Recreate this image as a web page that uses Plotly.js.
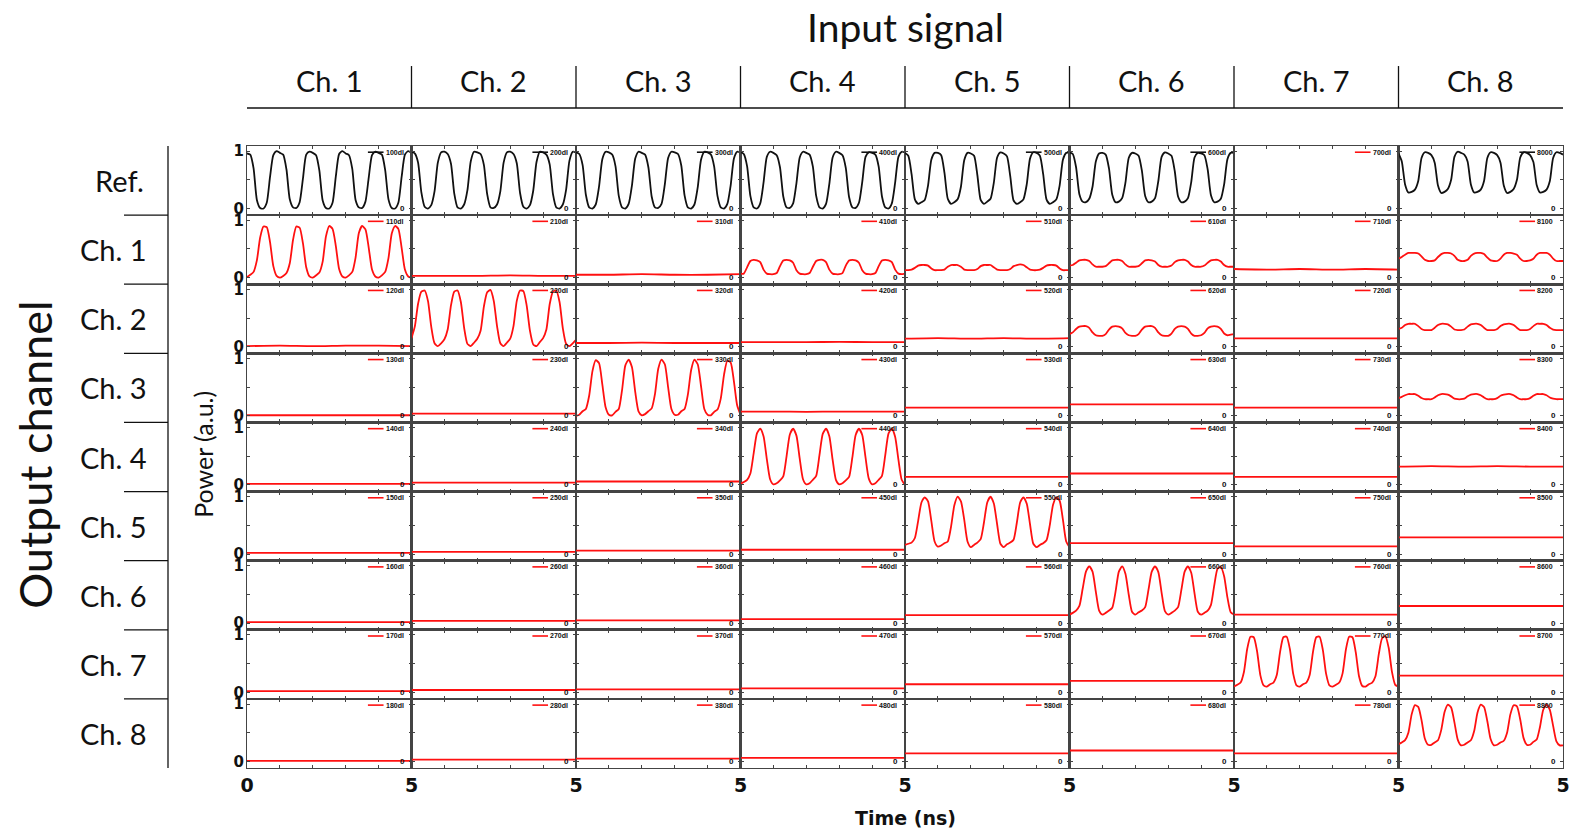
<!DOCTYPE html>
<html><head><meta charset="utf-8">
<script src="https://cdn.plot.ly/plotly-3.0.1.min.js"></script>
<style>html,body{margin:0;padding:0;background:#fff;}#chart{width:1571px;height:835px;}</style>
</head><body><div id="chart"></div>
<script>
// ---------- categories / ticks ----------
const inputLabels = ['Ch. 1','Ch. 2','Ch. 3','Ch. 4','Ch. 5','Ch. 6','Ch. 7','Ch. 8'];
const outputLabels = ['Ref.','Ch. 1','Ch. 2','Ch. 3','Ch. 4','Ch. 5','Ch. 6','Ch. 7','Ch. 8'];
const xTickVals = [0,1,2,3,4,5];
const xTickTextFirst = ['0','','','','','5'];
const xTickTextOther = ['','','','','','5'];
const yTickVals = [0,0.5,1];
const smallZeroText = '0';
const yBigVals = [0,1];
const yBigText = ['0','1'];

// ---------- time grids (ns) ----------
const t = [0.0,0.1,0.2,0.3,0.4,0.5,0.6,0.7,0.8,0.9,
           1.0,1.1,1.2,1.3,1.4,1.5,1.6,1.7,1.8,1.9,
           2.0,2.1,2.2,2.3,2.4,2.5,2.6,2.7,2.8,2.9,
           3.0,3.1,3.2,3.3,3.4,3.5,3.6,3.7,3.8,3.9,
           4.0,4.1,4.2,4.3,4.4,4.5,4.6,4.7,4.8,4.9,
           5.0];
const tFlat = [0,1,2,3,4,5];

// ---------- Reference row ----------
const ref_in1 = [0.96,0.94,0.70,0.15,0.01,0.00,0.10,0.55,0.93,1.00,
 0.97,0.94,0.68,0.16,0.02,0.01,0.11,0.52,0.94,0.99,
 0.97,0.93,0.66,0.14,0.01,0.00,0.10,0.56,0.95,1.00,
 0.96,0.93,0.69,0.15,0.02,0.01,0.12,0.54,0.93,0.99,
 0.97,0.94,0.67,0.16,0.01,0.00,0.10,0.55,0.94,1.00,
 0.97];
const ref_in2 = [0.99,0.96,0.80,0.28,0.03,0.00,0.06,0.30,0.80,0.98,
 0.99,0.95,0.78,0.26,0.02,0.00,0.07,0.32,0.82,0.99,
 0.98,0.95,0.76,0.25,0.02,0.01,0.07,0.30,0.80,0.98,
 0.99,0.95,0.79,0.27,0.03,0.00,0.06,0.31,0.81,0.99,
 0.98,0.94,0.77,0.25,0.02,0.00,0.07,0.33,0.83,0.99,
 0.98];
const ref_in3 = [0.98,0.95,0.76,0.24,0.02,0.00,0.07,0.38,0.86,0.99,
 0.98,0.94,0.74,0.22,0.02,0.00,0.08,0.40,0.87,0.99,
 0.97,0.94,0.72,0.21,0.02,0.01,0.08,0.42,0.88,0.99,
 0.98,0.95,0.75,0.23,0.02,0.00,0.07,0.37,0.85,0.99,
 0.98,0.94,0.73,0.22,0.02,0.00,0.08,0.40,0.87,0.99,
 0.98];
const ref_in4 = [0.99,0.95,0.74,0.22,0.02,0.00,0.09,0.45,0.90,0.99,
 0.97,0.93,0.72,0.21,0.02,0.01,0.09,0.44,0.89,0.99,
 0.97,0.94,0.73,0.22,0.02,0.00,0.08,0.43,0.89,0.99,
 0.97,0.93,0.71,0.20,0.02,0.01,0.10,0.46,0.90,0.98,
 0.97,0.94,0.73,0.21,0.02,0.00,0.09,0.45,0.90,0.99,
 0.98];
const ref_in5 = [0.97,0.92,0.60,0.16,0.08,0.11,0.15,0.40,0.85,0.97,
 0.97,0.93,0.62,0.17,0.08,0.11,0.16,0.38,0.84,0.97,
 0.96,0.92,0.58,0.15,0.08,0.12,0.17,0.45,0.89,0.98,
 0.96,0.91,0.56,0.14,0.08,0.11,0.16,0.42,0.87,0.98,
 0.97,0.92,0.60,0.16,0.08,0.11,0.16,0.40,0.85,0.97,
 0.97];
const ref_in6 = [0.98,0.95,0.72,0.25,0.12,0.11,0.17,0.38,0.82,0.96,
 0.97,0.94,0.70,0.24,0.11,0.12,0.18,0.45,0.88,0.97,
 0.96,0.92,0.66,0.22,0.11,0.12,0.18,0.48,0.90,0.98,
 0.96,0.92,0.65,0.21,0.11,0.12,0.18,0.46,0.89,0.97,
 0.96,0.93,0.68,0.23,0.11,0.12,0.17,0.42,0.86,0.97,
 0.97];
const ref_in8 = [0.96,0.82,0.42,0.28,0.29,0.33,0.48,0.88,0.98,0.97,
 0.93,0.80,0.40,0.27,0.29,0.34,0.50,0.90,0.99,0.97,
 0.94,0.82,0.42,0.28,0.29,0.33,0.48,0.88,0.98,0.97,
 0.93,0.80,0.40,0.27,0.29,0.34,0.50,0.89,0.98,0.97,
 0.93,0.81,0.41,0.28,0.29,0.33,0.48,0.88,0.98,0.97,
 0.94];

// ---------- Output Ch. 1 ----------
const out1_in1 = [0.01,0.05,0.10,0.30,0.70,0.89,0.88,0.62,0.20,0.03,
 0.00,0.03,0.08,0.25,0.66,0.89,0.87,0.60,0.18,0.02,
 0.00,0.04,0.09,0.28,0.72,0.90,0.85,0.55,0.15,0.02,
 0.00,0.04,0.10,0.35,0.78,0.90,0.84,0.52,0.14,0.02,
 0.00,0.04,0.10,0.34,0.77,0.90,0.85,0.52,0.14,0.02,
 0.00];
const out1_in2 = [0.03,0.03,0.03,0.04,0.03,0.03];
const out1_in3 = [0.05,0.05,0.06,0.05,0.05,0.06];
const out1_in4 = [0.07,0.07,0.18,0.29,0.31,0.30,0.27,0.14,0.07,0.06,
 0.06,0.08,0.20,0.30,0.31,0.30,0.26,0.13,0.07,0.06,
 0.06,0.08,0.19,0.29,0.31,0.31,0.27,0.14,0.07,0.06,
 0.06,0.08,0.21,0.30,0.31,0.30,0.26,0.13,0.07,0.06,
 0.06,0.08,0.20,0.30,0.31,0.30,0.27,0.14,0.07,0.06,
 0.07];
const out1_in5 = [0.13,0.13,0.14,0.17,0.21,0.22,0.22,0.21,0.16,0.13,
 0.13,0.13,0.14,0.19,0.22,0.22,0.22,0.19,0.14,0.13,
 0.13,0.13,0.15,0.20,0.22,0.22,0.22,0.18,0.14,0.13,
 0.13,0.13,0.15,0.20,0.22,0.23,0.22,0.18,0.14,0.13,
 0.13,0.14,0.17,0.21,0.22,0.22,0.21,0.16,0.13,0.13,
 0.13];
const out1_in6 = [0.21,0.22,0.26,0.30,0.31,0.31,0.29,0.23,0.19,0.19,
 0.19,0.20,0.25,0.30,0.31,0.31,0.29,0.23,0.19,0.19,
 0.19,0.20,0.25,0.30,0.31,0.30,0.28,0.22,0.19,0.19,
 0.19,0.21,0.27,0.30,0.31,0.31,0.28,0.22,0.19,0.19,
 0.19,0.21,0.26,0.30,0.31,0.31,0.28,0.22,0.19,0.19,
 0.19];
const out1_in7 = [0.15,0.14,0.15,0.14,0.15,0.14];
const out1_in8 = [0.33,0.36,0.40,0.43,0.43,0.43,0.42,0.37,0.31,0.29,
 0.29,0.30,0.36,0.41,0.43,0.43,0.42,0.38,0.31,0.29,
 0.29,0.31,0.38,0.42,0.43,0.43,0.41,0.35,0.30,0.29,
 0.29,0.33,0.40,0.43,0.43,0.42,0.40,0.33,0.29,0.29,
 0.30,0.33,0.40,0.43,0.43,0.43,0.40,0.33,0.29,0.29,
 0.29];

// ---------- Output Ch. 2 ----------
const out2_in1 = [0.01,0.02,0.01,0.02,0.02,0.01];
const out2_in2 = [0.15,0.35,0.75,0.96,0.98,0.80,0.35,0.06,0.01,0.06,
 0.13,0.30,0.72,0.96,0.98,0.78,0.33,0.05,0.01,0.07,
 0.14,0.28,0.70,0.95,0.99,0.80,0.36,0.06,0.01,0.07,
 0.14,0.36,0.80,0.98,0.97,0.72,0.28,0.04,0.01,0.08,
 0.15,0.30,0.74,0.96,0.98,0.78,0.32,0.05,0.01,0.06,
 0.12];
const out2_in3 = [0.065,0.065,0.07,0.065,0.065,0.065];
const out2_in4 = [0.08,0.08,0.08,0.085,0.08,0.08];
const out2_in5 = [0.14,0.15,0.14,0.15,0.14,0.15];
const out2_in6 = [0.22,0.25,0.31,0.35,0.36,0.36,0.33,0.25,0.20,0.19,
 0.19,0.22,0.30,0.35,0.36,0.35,0.32,0.24,0.20,0.19,
 0.19,0.22,0.30,0.35,0.36,0.36,0.33,0.25,0.20,0.19,
 0.19,0.23,0.31,0.35,0.36,0.35,0.31,0.23,0.19,0.19,
 0.20,0.24,0.32,0.35,0.36,0.35,0.31,0.23,0.20,0.21,
 0.22];
const out2_in7 = [0.145,0.145,0.145,0.145,0.145,0.145];
const out2_in8 = [0.31,0.33,0.38,0.40,0.40,0.40,0.36,0.31,0.29,0.29,
 0.29,0.33,0.38,0.40,0.40,0.39,0.35,0.30,0.29,0.29,
 0.30,0.35,0.39,0.40,0.40,0.38,0.33,0.29,0.29,0.29,
 0.31,0.36,0.39,0.40,0.40,0.38,0.33,0.29,0.29,0.29,
 0.31,0.36,0.40,0.40,0.40,0.38,0.33,0.30,0.29,0.29,
 0.29];

// ---------- Output Ch. 3 ----------
const out3_in1 = [0.01,0.01,0.01,0.01,0.01,0.01];
const out3_in2 = [0.04,0.04,0.04,0.04,0.04,0.04];
const out3_in3 = [0.00,0.02,0.08,0.12,0.35,0.78,0.97,0.92,0.55,0.15,
 0.02,0.01,0.07,0.12,0.45,0.88,0.98,0.85,0.42,0.08,
 0.01,0.03,0.08,0.13,0.38,0.82,0.98,0.90,0.50,0.12,
 0.02,0.02,0.08,0.12,0.37,0.80,0.98,0.90,0.52,0.12,
 0.02,0.01,0.07,0.11,0.30,0.72,0.96,0.93,0.60,0.18,
 0.02];
const out3_in4 = [0.075,0.075,0.07,0.075,0.075,0.075];
const out3_in5 = [0.145,0.145,0.145,0.145,0.145,0.145];
const out3_in6 = [0.20,0.20,0.20,0.20,0.20,0.20];
const out3_in7 = [0.145,0.145,0.145,0.145,0.145,0.145];
const out3_in8 = [0.31,0.33,0.36,0.38,0.38,0.38,0.35,0.31,0.29,0.29,
 0.29,0.32,0.36,0.38,0.38,0.37,0.34,0.30,0.29,0.29,
 0.30,0.34,0.37,0.38,0.38,0.36,0.32,0.29,0.29,0.29,
 0.31,0.35,0.37,0.38,0.38,0.36,0.32,0.29,0.29,0.29,
 0.31,0.35,0.38,0.38,0.38,0.36,0.32,0.30,0.29,0.29,
 0.29];

// ---------- Output Ch. 4 ----------
const out4_in1 = [0.02,0.02,0.02,0.02,0.02,0.02];
const out4_in2 = [0.04,0.04,0.04,0.04,0.04,0.04];
const out4_in3 = [0.06,0.06,0.06,0.06,0.06,0.06];
const out4_in4 = [0.02,0.05,0.09,0.20,0.55,0.90,0.98,0.85,0.45,0.10,
 0.01,0.03,0.08,0.15,0.50,0.88,0.98,0.86,0.46,0.10,
 0.01,0.03,0.09,0.16,0.52,0.89,0.98,0.85,0.44,0.09,
 0.01,0.03,0.08,0.14,0.48,0.87,0.98,0.87,0.48,0.11,
 0.01,0.03,0.09,0.16,0.52,0.90,0.98,0.84,0.44,0.09,
 0.00];
const out4_in5 = [0.14,0.14,0.14,0.14,0.14,0.14];
const out4_in6 = [0.20,0.20,0.20,0.20,0.20,0.20];
const out4_in7 = [0.14,0.14,0.14,0.14,0.14,0.14];
const out4_in8 = [0.32,0.33,0.32,0.33,0.32,0.32];

// ---------- Output Ch. 5 ----------
const out5_in1 = [0.02,0.02,0.02,0.02,0.02,0.02];
const out5_in2 = [0.04,0.04,0.04,0.04,0.04,0.04];
const out5_in3 = [0.06,0.06,0.06,0.06,0.06,0.06];
const out5_in4 = [0.075,0.075,0.075,0.075,0.075,0.075];
const out5_in5 = [0.16,0.18,0.20,0.28,0.58,0.90,0.99,0.92,0.58,0.22,
 0.13,0.15,0.19,0.22,0.48,0.85,1.00,0.92,0.60,0.22,
 0.12,0.16,0.20,0.26,0.55,0.90,1.00,0.88,0.52,0.18,
 0.12,0.17,0.20,0.25,0.55,0.90,0.99,0.88,0.52,0.18,
 0.12,0.16,0.19,0.24,0.50,0.86,0.99,0.93,0.60,0.22,
 0.12];
const out5_in6 = [0.19,0.19,0.19,0.19,0.19,0.19];
const out5_in7 = [0.135,0.135,0.135,0.135,0.135,0.135];
const out5_in8 = [0.29,0.29,0.29,0.29,0.29,0.29];

// ---------- Output Ch. 6 ----------
const out6_in1 = [0.02,0.02,0.02,0.02,0.02,0.02];
const out6_in2 = [0.04,0.04,0.04,0.04,0.04,0.04];
const out6_in3 = [0.05,0.05,0.05,0.05,0.05,0.05];
const out6_in4 = [0.07,0.07,0.07,0.07,0.07,0.07];
const out6_in5 = [0.14,0.14,0.14,0.14,0.14,0.14];
const out6_in6 = [0.15,0.18,0.22,0.30,0.60,0.90,0.99,0.90,0.55,0.22,
 0.15,0.18,0.22,0.27,0.55,0.90,0.99,0.86,0.50,0.20,
 0.15,0.19,0.22,0.28,0.58,0.90,0.99,0.89,0.53,0.21,
 0.15,0.18,0.22,0.28,0.58,0.90,0.99,0.88,0.52,0.20,
 0.15,0.18,0.22,0.32,0.66,0.95,0.98,0.82,0.45,0.19,
 0.15];
const out6_in7 = [0.15,0.15,0.15,0.15,0.15,0.15];
const out6_in8 = [0.30,0.30,0.30,0.30,0.30,0.30];

// ---------- Output Ch. 7 ----------
const out7_in1 = [0.02,0.02,0.02,0.02,0.02,0.02];
const out7_in2 = [0.04,0.04,0.04,0.04,0.04,0.04];
const out7_in3 = [0.05,0.05,0.05,0.05,0.05,0.05];
const out7_in4 = [0.07,0.07,0.07,0.07,0.07,0.07];
const out7_in5 = [0.14,0.14,0.14,0.14,0.14,0.14];
const out7_in6 = [0.20,0.20,0.20,0.20,0.20,0.20];
const out7_in7 = [0.10,0.13,0.17,0.35,0.75,0.97,0.96,0.72,0.30,0.12,
 0.10,0.14,0.17,0.30,0.70,0.96,0.97,0.75,0.32,0.12,
 0.10,0.14,0.17,0.30,0.70,0.96,0.97,0.74,0.32,0.12,
 0.10,0.13,0.17,0.33,0.74,0.97,0.96,0.70,0.28,0.11,
 0.10,0.14,0.17,0.28,0.66,0.94,0.98,0.78,0.36,0.13,
 0.10];
const out7_in8 = [0.29,0.29,0.29,0.29,0.29,0.29];

// ---------- Output Ch. 8 ----------
const out8_in1 = [0.01,0.01,0.01,0.01,0.01,0.01];
const out8_in2 = [0.03,0.03,0.03,0.03,0.03,0.03];
const out8_in3 = [0.05,0.05,0.05,0.05,0.05,0.05];
const out8_in4 = [0.06,0.06,0.06,0.06,0.06,0.06];
const out8_in5 = [0.14,0.14,0.14,0.14,0.14,0.14];
const out8_in6 = [0.19,0.19,0.19,0.19,0.19,0.19];
const out8_in7 = [0.14,0.14,0.14,0.14,0.14,0.14];
const out8_in8 = [0.30,0.33,0.37,0.50,0.82,0.98,0.95,0.72,0.40,0.29,
 0.29,0.33,0.37,0.55,0.86,0.99,0.94,0.68,0.38,0.28,
 0.29,0.33,0.37,0.53,0.85,0.99,0.95,0.70,0.39,0.28,
 0.29,0.33,0.36,0.50,0.82,0.98,0.96,0.73,0.41,0.29,
 0.29,0.34,0.38,0.60,0.90,0.99,0.90,0.62,0.35,0.28,
 0.28];

// ---------- panel table (rows = output, cols = input) ----------
const panels = [
  [ref_in1, ref_in2, ref_in3, ref_in4, ref_in5, ref_in6, null, ref_in8],
  [out1_in1,out1_in2,out1_in3,out1_in4,out1_in5,out1_in6,out1_in7,out1_in8],
  [out2_in1,out2_in2,out2_in3,out2_in4,out2_in5,out2_in6,out2_in7,out2_in8],
  [out3_in1,out3_in2,out3_in3,out3_in4,out3_in5,out3_in6,out3_in7,out3_in8],
  [out4_in1,out4_in2,out4_in3,out4_in4,out4_in5,out4_in6,out4_in7,out4_in8],
  [out5_in1,out5_in2,out5_in3,out5_in4,out5_in5,out5_in6,out5_in7,out5_in8],
  [out6_in1,out6_in2,out6_in3,out6_in4,out6_in5,out6_in6,out6_in7,out6_in8],
  [out7_in1,out7_in2,out7_in3,out7_in4,out7_in5,out7_in6,out7_in7,out7_in8],
  [out8_in1,out8_in2,out8_in3,out8_in4,out8_in5,out8_in6,out8_in7,out8_in8]
];
function legendName(r, c) {
  if (c === 7) return '8' + r + '00';
  return String(c + 1) + r + '0dl';
}

// ---------- build figure ----------
const NR = 9, NC = 8;
const yRange = [-0.115, 1.09];
const RED = '#ff1010', BLACK = '#111111', AX = '#444444';
const traces = [];
const layout = {
  width: 1571, height: 835,
  margin: {l: 247, r: 8, t: 146, b: 67},
  paper_bgcolor: '#ffffff', plot_bgcolor: 'rgba(0,0,0,0)',
  showlegend: false,
  font: {family: 'Lato', color: '#111'},
  annotations: [], shapes: []
};
function axId(k) { return k === 1 ? '' : String(k); }

for (let r = 0; r < NR; r++) {
  for (let c = 0; c < NC; c++) {
    const k = r * NC + c + 1;
    const xa = 'x' + axId(k), ya = 'y' + axId(k);
    layout['xaxis' + axId(k)] = {
      domain: [c / NC, (c + 1) / NC], anchor: ya, range: [0, 5],
      tickmode: 'array', tickvals: xTickVals,
      ticktext: c === 0 ? xTickTextFirst : xTickTextOther,
      showticklabels: r === NR - 1,
      ticks: 'inside', ticklen: 3, tickwidth: 1, tickcolor: AX,
      showline: true, linecolor: AX, linewidth: 1.3, mirror: 'ticks',
      showgrid: false, zeroline: false, fixedrange: true,
      tickfont: {family: 'DejaVu Sans', size: 19, color: '#111', weight: 'bold'}
    };
    layout['yaxis' + axId(k)] = {
      domain: [1 - (r + 1) / NR, 1 - r / NR], anchor: xa, range: yRange,
      tickmode: 'array', tickvals: yTickVals, showticklabels: false,
      ticks: 'inside', ticklen: 3, tickwidth: 1, tickcolor: AX,
      showline: true, linecolor: AX, linewidth: 1.3, mirror: 'ticks',
      showgrid: false, zeroline: false, fixedrange: true
    };
    const series = panels[r][c];
    const col = (r === 0 && series) ? BLACK : RED;
    traces.push({
      type: 'scatter', mode: 'lines',
      x: series ? (series.length === t.length ? t : tFlat) : [],
      y: series ? series : [],
      xaxis: xa, yaxis: ya,
      line: {color: col, width: 1.8, shape: 'spline', smoothing: 0.6},
      hoverinfo: 'skip'
    });
    // per-panel legend (line sample + label)
    const dom = xa + ' domain', ydom = ya + ' domain';
    layout.shapes.push({type: 'line', xref: dom, yref: ydom,
      x0: 0.735, x1: 0.83, y0: 0.91, y1: 0.91,
      line: {color: col, width: 1.6}});
    layout.annotations.push({xref: dom, yref: ydom, x: 0.832, y: 0.91,
      xanchor: 'left', yanchor: 'middle', showarrow: false,
      text: legendName(r, c),
      font: {family: 'Liberation Sans', size: 7, color: '#111', weight: 'bold'}});
    // small inside "0" label at the right edge of every panel
    layout.annotations.push({xref: dom, yref: ya, x: 0.972, y: 0,
      xanchor: 'right', yanchor: 'middle', showarrow: false,
      text: smallZeroText,
      font: {family: 'Liberation Sans', size: 8, color: '#111', weight: 'bold'}});
  }
  // big left tick labels for the first column
  const k0 = r * NC + 1;
  const yk = NR * NC + r + 1;
  layout['yaxis' + yk] = {
    overlaying: 'y' + axId(k0), anchor: 'x' + axId(k0), side: 'left',
    range: yRange, tickmode: 'array', tickvals: yBigVals, ticktext: yBigText,
    showline: false, ticks: '', showgrid: false, zeroline: false, fixedrange: true,
    ticklabelstandoff: 2,
    tickfont: {family: 'DejaVu Sans', size: 15, color: '#111', weight: 'bold'}
  };
  traces.push({type: 'scatter', mode: 'lines', x: [], y: [],
    xaxis: 'x' + axId(k0), yaxis: 'y' + yk, hoverinfo: 'skip'});
}

// ---------- headers ----------
const H = 622.3, BOT = 768.3, L = 247, W = 1316;
const py = p => (BOT - p) / H;
const px = p => (p - L) / W;
layout.annotations.push({xref: 'paper', yref: 'paper', x: 0.5, y: py(27),
  xanchor: 'center', yanchor: 'middle', showarrow: false, text: 'Input signal',
  font: {family: 'Lato', size: 39, color: '#111'}});
for (let c = 0; c < NC; c++) {
  layout.annotations.push({xref: 'paper', yref: 'paper', x: (c + 0.5) / NC, y: py(80),
    xanchor: 'center', yanchor: 'middle', showarrow: false, text: inputLabels[c],
    font: {family: 'Lato', size: 29, color: '#111'}});
  if (c > 0) layout.shapes.push({type: 'line', xref: 'paper', yref: 'paper',
    x0: c / NC, x1: c / NC, y0: py(66), y1: py(108), line: {color: '#111', width: 1.3}});
}
layout.shapes.push({type: 'line', xref: 'paper', yref: 'paper',
  x0: 0, x1: 1, y0: py(108), y1: py(108), line: {color: '#111', width: 1.5}});

// left side
layout.shapes.push({type: 'line', xref: 'paper', yref: 'paper',
  x0: px(168), x1: px(168), y0: 0, y1: 1, line: {color: '#111', width: 1.3}});
for (let r = 0; r < NR; r++) {
  layout.annotations.push({xref: 'paper', yref: 'paper', x: px(r === 0 ? 120 : 113), y: 1 - (r + 0.5) / NR,
    xanchor: 'center', yanchor: 'middle', showarrow: false, text: outputLabels[r],
    font: {family: 'Lato', size: 29, color: '#111'}});
  if (r > 0) layout.shapes.push({type: 'line', xref: 'paper', yref: 'paper',
    x0: px(124), x1: px(168), y0: 1 - r / NR, y1: 1 - r / NR, line: {color: '#111', width: 1.3}});
}
layout.annotations.push({xref: 'paper', yref: 'paper', x: px(35), y: py(455),
  xanchor: 'center', yanchor: 'middle', showarrow: false, textangle: -90,
  text: 'Output channel', font: {family: 'Lato', size: 45, color: '#111'}});
layout.annotations.push({xref: 'paper', yref: 'paper', x: px(203), y: py(455),
  xanchor: 'center', yanchor: 'middle', showarrow: false, textangle: -90,
  text: 'Power (a.u.)', font: {family: 'Lato', size: 25, color: '#111'}});
layout.annotations.push({xref: 'paper', yref: 'paper', x: 0.5, y: py(818),
  xanchor: 'center', yanchor: 'middle', showarrow: false,
  text: 'Time (ns)', font: {family: 'DejaVu Sans', size: 19, color: '#111', weight: 'bold'}});

Plotly.newPlot('chart', traces, layout, {staticPlot: true, displayModeBar: false});
</script></body></html>
